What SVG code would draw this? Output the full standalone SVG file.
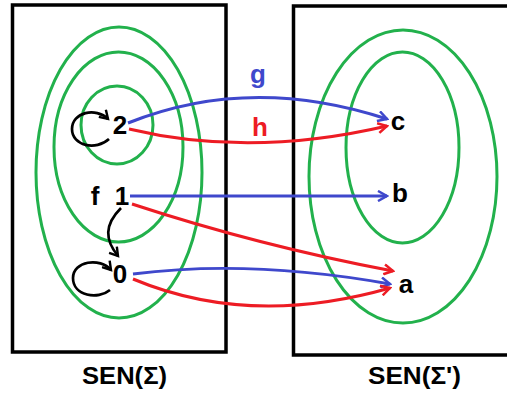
<svg xmlns="http://www.w3.org/2000/svg" width="507" height="396" viewBox="0 0 507 396">
<style>
.box{fill:none;stroke:#000;stroke-width:3.5}
.set{fill:none;stroke:#22b14c;stroke-width:3}
.t{font-family:"Liberation Sans",Arial,sans-serif;font-weight:bold;font-size:26px;fill:#000}
.lbl{font-family:"Liberation Sans",Arial,sans-serif;font-weight:bold;font-size:24px;fill:#000}
.blue{fill:none;stroke:#3f48cc;stroke-width:3}
.red{fill:none;stroke:#ed1c24;stroke-width:3}
.blk{fill:none;stroke:#000;stroke-width:2.7}
</style>
<defs>
<marker id="ab" markerWidth="12" markerHeight="12" refX="10" refY="6" orient="auto" markerUnits="userSpaceOnUse"><path d="M1,1 L10,6 L1,11" fill="none" stroke="#3f48cc" stroke-width="2.5"/></marker>
<marker id="ar" markerWidth="12" markerHeight="12" refX="10" refY="6" orient="auto" markerUnits="userSpaceOnUse"><path d="M1,1 L10,6 L1,11" fill="none" stroke="#ed1c24" stroke-width="2.5"/></marker>
<marker id="ak" markerWidth="12" markerHeight="12" refX="9" refY="6" orient="auto" markerUnits="userSpaceOnUse"><path d="M1,1 L9,6 L1,11" fill="none" stroke="#000" stroke-width="2.4"/></marker>
</defs>
<g id="sen-sigma">
<rect class="box" x="12.5" y="5" width="213.5" height="347"/>
<ellipse class="set" cx="119" cy="172.5" rx="83" ry="145.5"/>
<ellipse class="set" cx="118.5" cy="147" rx="64.5" ry="95"/>
<ellipse class="set" cx="117" cy="125" rx="36" ry="39"/>
<text class="lbl" x="124.5" y="384" text-anchor="middle" textLength="85" lengthAdjust="spacingAndGlyphs">SEN(Σ)</text>
</g>
<g id="sen-sigma-prime">
<rect class="box" x="293.5" y="6" width="220" height="349"/>
<ellipse class="set" cx="403" cy="176.5" rx="94" ry="146.5"/>
<ellipse class="set" cx="402.5" cy="147.5" rx="56.5" ry="95.5"/>
<text class="lbl" x="414.5" y="384" text-anchor="middle" textLength="93" lengthAdjust="spacingAndGlyphs">SEN(Σ')</text>
</g>
<g id="n2"><text class="t" x="120" y="134" text-anchor="middle">2</text></g>
<g id="n1"><text class="t" x="122" y="205" text-anchor="middle">1</text></g>
<g id="n0"><text class="t" x="120" y="283" text-anchor="middle">0</text></g>
<g id="nc"><text class="t" x="398" y="130" text-anchor="middle">c</text></g>
<g id="nb"><text class="t" x="400" y="202" text-anchor="middle">b</text></g>
<g id="na"><text class="t" x="406" y="293" text-anchor="middle">a</text></g>
<g id="connectors">
<path class="blue" d="M128,123 Q250,74 387,119" marker-end="url(#ab)"/>
<path class="red" d="M129,129 Q250,158 387,126" marker-end="url(#ar)"/>
<path class="blue" d="M130,196 L387,196" marker-end="url(#ab)"/>
<path class="red" d="M132,204 Q260,246 393,271" marker-end="url(#ar)"/>
<path class="blue" d="M133,274 Q250,259 390,284" marker-end="url(#ab)"/>
<path class="red" d="M133,279 Q250,328 390,288" marker-end="url(#ar)"/>
<path class="blk" d="M109,139 C96,151 72,146 72,129 C72,112 96,107 108,119" marker-end="url(#ak)"/>
<path class="blk" d="M110,290 C98,300 73,296 73,278 C73,261 100,257 111,270" marker-end="url(#ak)"/>
<path class="blk" d="M121,208 C104,225 105,240 118,256" marker-end="url(#ak)"/>
<text class="t" x="258" y="83" text-anchor="middle" style="fill:#3f48cc">g</text>
<text class="t" x="260" y="136" text-anchor="middle" style="fill:#ed1c24">h</text>
<text class="t" x="95" y="205" text-anchor="middle">f</text>
</g>
</svg>
